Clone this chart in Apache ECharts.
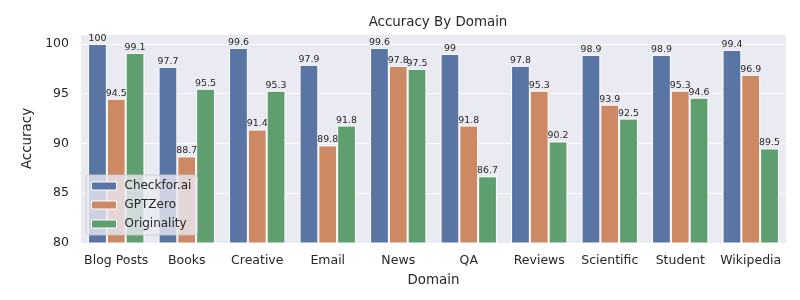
<!DOCTYPE html>
<html><head><meta charset="utf-8">
<script src="https://cdn.jsdelivr.net/npm/echarts@6/dist/echarts.min.js"></script>
<style>html,body{margin:0;padding:0;background:#fff}#c{width:800px;height:300px}</style>
</head><body><div id="c"></div>
<script>
const categories = ["Blog Posts","Books","Creative","Email","News","QA","Reviews","Scientific","Student","Wikipedia"];
const checkfor = [100,97.7,99.6,97.9,99.6,99,97.8,98.9,98.9,99.4];
const gptzero = [94.5,88.7,91.4,89.8,97.8,91.8,95.3,93.9,95.3,96.9];
const originality = [99.1,95.5,95.3,91.8,97.5,86.7,90.2,92.5,94.6,89.5];
const seriesNames = ["Checkfor.ai","GPTZero","Originality"];
const colors = ["#5975A4","#CC8963","#5F9E6E"];
const font = "DejaVu Sans";
const chart = echarts.init(document.getElementById('c'));
function mk(name, data, color){
  return {name, type:'bar', data, barGap:'0%', barCategoryGap:'20%',
    itemStyle:{color, borderColor:'#fff', borderWidth:1},
    label:{show:true, position:'top', distance:1, fontSize:9.4, color:'#262626', fontFamily:font},
    z:2};
}
chart.setOption({
  animation:false,
  textStyle:{fontFamily:font},
  title:{text:'Accuracy By Domain', left:433, top:11, textAlign:'center',
    textStyle:{fontSize:13.4, fontWeight:'normal', color:'#262626', fontFamily:font}},
  grid:{left:81, right:14, top:34, bottom:57, show:true, backgroundColor:'#EAEAF2', borderWidth:0},
  xAxis:{type:'category', data:categories, name:'Domain', nameLocation:'middle', nameGap:31,
    nameTextStyle:{fontSize:13.4, color:'#262626', fontFamily:font},
    axisLine:{show:false}, axisTick:{show:false},
    axisLabel:{interval:0, fontSize:12.5, color:'#262626', margin:11, fontFamily:font},
    splitLine:{show:false}},
  yAxis:{type:'value', min:80, max:101, interval:5, name:'Accuracy', nameLocation:'middle', nameGap:32,
    nameTextStyle:{fontSize:13.4, color:'#262626', fontFamily:font},
    axisLine:{show:false}, axisTick:{show:false},
    axisLabel:{fontSize:12.5, color:'#262626', margin:12, fontFamily:font,
      formatter:v=> (v%5===0? String(v):'')},
    splitLine:{show:true, lineStyle:{color:'#fff', width:1}}},
  legend:{orient:'vertical', left:86, top:175, itemWidth:25, itemHeight:8, itemGap:5,
    data:seriesNames, backgroundColor:'rgba(234,234,242,0.8)', borderColor:'rgba(204,204,204,0.8)', borderWidth:1,
    borderRadius:3, padding:[4,6,4,5],
    textStyle:{fontSize:12, color:'#262626', fontFamily:font, padding:[0,0,0,3], lineHeight:14},
    icon:'rect', itemStyle:{borderColor:'#fff', borderWidth:1}},
  series:[mk(seriesNames[0],checkfor,colors[0]), mk(seriesNames[1],gptzero,colors[1]), mk(seriesNames[2],originality,colors[2])]
});
</script></body></html>
